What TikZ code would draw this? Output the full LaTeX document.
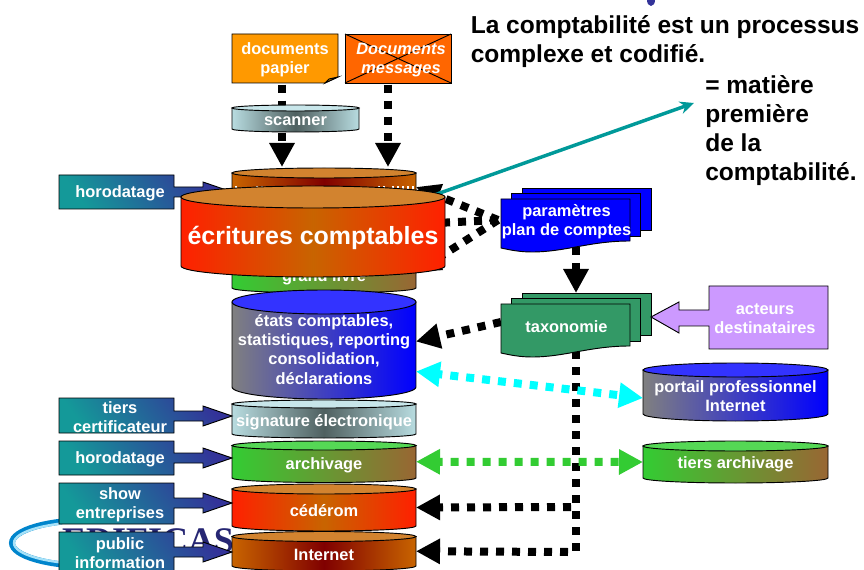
\documentclass[tikz,border=0pt]{standalone}
\usepackage{fontspec}
\setmainfont{Liberation Sans}
\newfontfamily\logofont{Liberation Serif}
\usetikzlibrary{arrows.meta,calc}
\definecolor{tealbox}{HTML}{149999}
\definecolor{bluebox}{HTML}{333399}
\definecolor{browncyltop}{HTML}{D2832F}
\definecolor{redcyltop}{HTML}{D2832F}
\definecolor{greencyltop}{HTML}{55D855}
\definecolor{bluecyltop}{HTML}{3333FF}
\definecolor{palecyltop}{HTML}{C8E6EA}
\definecolor{HB1}{HTML}{C86400}\definecolor{HB2}{HTML}{800000}
\definecolor{HR1}{HTML}{FF2000}\definecolor{HR2}{HTML}{C86400}
\definecolor{HG1}{HTML}{33CC33}\definecolor{HG2}{HTML}{996633}
\definecolor{HU1}{HTML}{808080}\definecolor{HU2}{HTML}{0000FF}
\definecolor{HP1}{HTML}{B8DCE0}\definecolor{HP2}{HTML}{4F6060}
\definecolor{cyanl}{HTML}{00FFFF}
\definecolor{greenl}{HTML}{33CC33}
\definecolor{teall}{HTML}{009999}
\definecolor{taxgreen}{HTML}{339966}
\definecolor{paramblue}{HTML}{0000FF}
\definecolor{purplebox}{HTML}{CC99FF}
\definecolor{orangedoc}{HTML}{FF9900}
\definecolor{orangefold}{HTML}{CC8800}
\definecolor{orangemsg}{HTML}{FF6600}
\newcommand\lblfont{\fontsize{12.3pt}{14.4pt}\selectfont\bfseries}
\newcommand\titlefont{\fontsize{18.4pt}{21.75pt}\selectfont\bfseries}
\tikzset{
  lbl/.style={text=white,align=center,font=\lblfont,inner sep=0pt,yshift=-1pt},
  edge/.style={draw=black,line width=.7pt},
  browncyl/.style={left color=HB1,right color=HB1,middle color=HB2},
  redcyl/.style={left color=HR1,right color=HR1,middle color=HR2},
  greencyl/.style={left color=HG1,right color=HG2},
  bluecyl/.style={left color=HU1,right color=HU2},
  palecyl/.style={left color=HP1,right color=HP1,middle color=HP2},
  flow/.style={line width=6pt,dash pattern=on 6pt off 6pt},
  bighead/.style={-{Triangle[length=18pt,width=18pt]}},
  twohead/.style={{Triangle[length=18pt,width=18pt]}-{Triangle[length=18pt,width=18pt]}},
  ghost/.style={inner sep=0pt,outer sep=0pt},
  title/.style={anchor=north west,inner sep=0pt,align=left,font=\titlefont,text=black}
}
% name, style, x1, x2, ytop, yside, ry, texty, text
\newcommand\cyl[9]{%
  \pgfmathsetmacro\cyCx{(#3+#4)/2}\pgfmathsetmacro\cyRx{(#4-#3)/2}%
  \pgfmathsetmacro\cyK{.5523*\cyRx}\pgfmathsetmacro\cyQ{.5523*#7}%
  \pgfmathsetmacro\cyW{(#4-#3)*.75}\pgfmathsetmacro\cyH{(#6-#5+2*#7)*.75}%
  \pgfmathsetmacro\cyMid{(#5+#6)/2}%
  \shadedraw[#2,edge] (#3,#5) -- (#3,#6)
    .. controls (#3,{#6+\cyQ}) and ({\cyCx-\cyK},{#6+#7}) .. (\cyCx,{#6+#7})
    .. controls ({\cyCx+\cyK},{#6+#7}) and (#4,{#6+\cyQ}) .. (#4,#6)
    -- (#4,#5) -- cycle;
  \filldraw[fill=#2top,edge] (\cyCx,#5) circle[x radius=\cyRx,y radius=#7];
  \node[ghost,minimum width=\cyW pt,minimum height=\cyH pt] (#1) at (\cyCx,\cyMid) {};
  \node[lbl] (#1-t) at (\cyCx,#8) {#9};
}
% name, ytop, ybottom, ytip, text
\newcommand\callout[5]{%
  \shadedraw[left color=tealbox,right color=bluebox,shading angle=125,edge]
    (59,#2) -- (174,#2) -- (174,{#4-5}) -- (203,{#4-5}) -- (203,{#4-10}) -- (232,#4)
    -- (203,{#4+10}) -- (203,{#4+5}) -- (174,{#4+5}) -- (174,#3) -- (59,#3) -- cycle;
  \pgfmathsetmacro\cbH{(#3-#2)*.75}%
  \node[lbl,minimum width=80pt,minimum height=\cbH pt] (#1) at (120,{(#2+#3)/2}) {#5};
}
% name, colour, y of front top, text
\newcommand\stackdoc[4]{%
  \begin{scope}[shift={(0,#3)}]
    \filldraw[fill=#2,edge] (522,-11) rectangle (651,31);
    \filldraw[fill=#2,edge] (511,-6) rectangle (640,37);
    \filldraw[fill=#2,edge] (501,0) -- (630,0) -- (630,42)
      .. controls (590,42) and (565,53) .. (532,53)
      .. controls (520,53) and (510,51) .. (501,49) -- cycle;
    \node[lbl,minimum width=96.75pt,minimum height=39.75pt] (#1) at (566.5,21.5) {#4};
  \end{scope}%
}
\begin{document}
\begin{tikzpicture}[x=.75pt,y=-.75pt]
\clip (0,0) rectangle (864,570);
\fill[white] (0,0) rectangle (864,570);

% logo behind the boxes
\begin{scope}
  \clip (0,500) rectangle (62,570);
  \draw[line width=4.5pt,color=blue!35!cyan!80!black] (90,543) circle[x radius=78,y radius=23];
  \draw[line width=1.8pt,color=cyan!35] (90,543) circle[x radius=76,y radius=21];
\end{scope}
\node[ghost,anchor=base west,text=bluebox!75!black,font=\logofont\bfseries\fontsize{27pt}{27pt}\selectfont] (logo) at (62,552) {EDIFICAS};

% small mark at top edge
\fill[bluebox] (651,0) circle[x radius=4,y radius=6];

% free ends
\coordinate (tealtip) at (694,103);
\coordinate (ecrstart) at (430,196.5);
\coordinate (taxbend) at (576,552);
\coordinate (taxbranch) at (571,507);
\coordinate (taxout) at (576,351);
\coordinate (paramout) at (576,247);
\coordinate (pw) at (498,220);

% cylinders behind the large one
\cyl{saisie}{browncyl}{232}{416}{173}{226}{5}{192}{}
\foreach \sx in {235,256,261,309,339,378,383,392,397,402,407,412}
  \fill[white] (\sx,186) rectangle ++(2.2,3);
\cyl{livre}{greencyl}{232}{416}{245}{288}{5}{276}{grand livre}
\callout{hor1}{175}{209}{192}{horodatage}

% source documents
\filldraw[fill=orangedoc,edge] (232,34) -- (338,34) -- (338,77) -- (325,83) -- (232,83) -- cycle;
\filldraw[fill=orangefold,edge] (338,77) -- (329,79) -- (325,83) -- cycle;
\node[lbl,minimum width=79.5pt,minimum height=36.75pt] (papier) at (285,58.5) {documents\\papier};
\filldraw[fill=orangemsg,edge] (345,34) rectangle (451,83);
\draw[edge] (345,34) -- (451,83) (345,83) -- (451,34);
\node[lbl,minimum width=79.5pt,minimum height=36.75pt,font=\lblfont\itshape] (msg) at (401,58.5) {Documents\\messages};

\draw[flow,bighead] ([xshift=-2.25pt]papier.south) -- (282,167);
\draw[flow,bighead] ([xshift=-9.75pt]msg.south) -- (388,167);
\cyl{scan}{palecyl}{232}{359}{108}{129}{3}{120}{scanner}

% parameter lines run behind the large cylinder
\draw[flow,bighead] (pw) -- (saisie.east |- 0,187);
\draw[flow,bighead] (pw) -- (saisie.east |- 0,224);
\draw[flow,bighead] (pw) -- (livre.east |- 0,272);
\stackdoc{params}{paramblue}{199}{paramètres\\plan de comptes}

% teal arrow and large cylinder
\draw[teall,line width=2.6pt,-{Stealth[length=10.5pt,width=9.5pt]}] (ecrstart) -- (tealtip);
\cyl{ecr}{redcyl}{181}{445}{197}{266}{11}{237}{\fontsize{18.7pt}{22pt}\selectfont écritures comptables}

% lower stack
\cyl{etats}{bluecyl}{232}{416}{302}{387}{12}{348}{états comptables,\\statistiques, reporting\\consolidation,\\déclarations}
\cyl{sign}{palecyl}{232}{416}{404}{434}{4}{421}{signature électronique}
\cyl{arch}{greencyl}{232}{416}{445.5}{478}{4.5}{464}{archivage}
\cyl{ced}{redcyl}{232}{416}{489}{526}{5}{509}{cédérom}
\cyl{net}{browncyl}{232}{416}{536.5}{566}{5}{554}{Internet}

% right-hand cylinders
\cyl{port}{bluecyl}{643}{828}{370}{414}{7}{395}{portail professionnel\\Internet}
\cyl{tarch}{greencyl}{643}{828}{446}{478}{5}{463}{tiers archivage}

% taxonomy connectors
\draw[flow] (taxout) -- (taxbend);
\draw[flow,bighead] ([xshift=-6pt]taxbend) -- (net.east);
\draw[flow,bighead] (taxbranch) -- (ced.east);
\draw[flow,bighead] (paramout) -- (576,293);
\draw[flow,bighead] (501,322) -- ([yshift=2.25pt]etats.east);
\draw[flow,twohead,draw=cyanl,color=cyanl,dash phase=3pt] ([yshift=-20.25pt]etats.east) -- ([yshift=-4.5pt]port.west);
\draw[flow,twohead,draw=greenl,color=greenl,dash phase=3pt] (arch.east) -- (tarch.west);
\stackdoc{tax}{taxgreen}{304}{taxonomie}

% actors
\filldraw[fill=purplebox,edge] (709,286) -- (828,286) -- (828,349) -- (709,349) -- (709,326) -- (679,326) -- (679,333) -- (651,317) -- (679,302) -- (679,310) -- (709,310) -- cycle;
\node[lbl,minimum width=89.25pt,minimum height=47.25pt] (act) at (765,317.5) {acteurs\\destinataires};

% left callouts
\callout{tiers}{398}{433}{416}{tiers\\certificateur}
\callout{hor2}{441}{475}{458}{horodatage}
\callout{show}{483}{524}{503}{show\\entreprises}
\callout{pub}{532}{571}{552}{public\\information}

% titles
\node[title] (t1) at (470.5,15) {La comptabilité est un processus\\complexe et codifié.};
\node[title] (t2) at (705,75) {= matière\\première\\de la\\comptabilité.};
\end{tikzpicture}
\end{document}
